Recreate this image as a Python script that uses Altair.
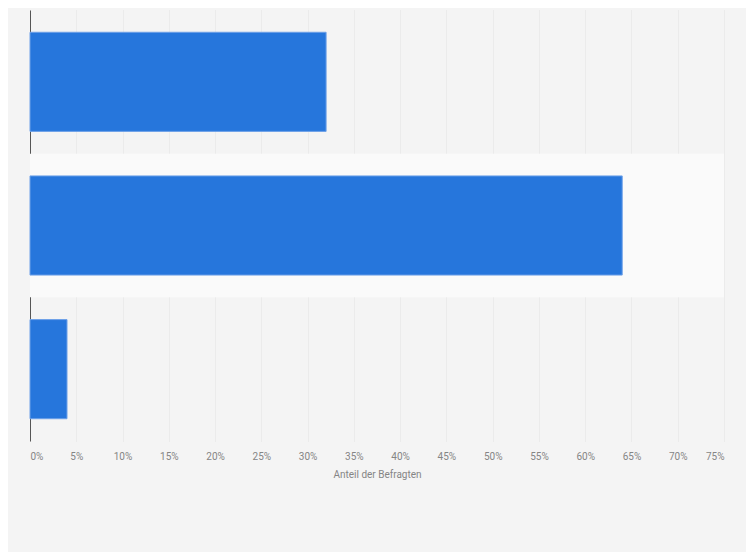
import altair as alt
import pandas as pd

categories = ["Ja", "Nein", "Weiß nicht"]
values = [32, 64, 4]
band_categories = ["Nein"]

df = pd.DataFrame({"Antwort": categories, "Anteil": values})
band_df = pd.DataFrame({"Antwort": band_categories})

W, H = 694, 431

band = alt.Chart(band_df).mark_rect(color="#fafafa").encode(
    y=alt.Y("Antwort:N", sort=categories,
            scale=alt.Scale(domain=categories, paddingInner=0, paddingOuter=0),
            axis=None),
    x=alt.value(0),
    x2=alt.value(W),
)

bars = alt.Chart(df).mark_bar(
    color="#2676dc", stroke="#6ea1e8", strokeWidth=1
).encode(
    x=alt.X("Anteil:Q",
            scale=alt.Scale(domain=[0, 75], nice=False),
            axis=alt.Axis(values=list(range(0, 80, 5)),
                          labelExpr="datum.value + '%'",
                          title="Anteil der Befragten",
                          grid=True, gridColor="#e2e2e2", gridDash=[1, 1],
                          gridWidth=1,
                          domain=False, ticks=False,
                          labelFlush=True,
                          labelColor="#858585", labelFontSize=10,
                          labelFont="Roboto", labelPadding=10,
                          titleColor="#858585", titleFontSize=10,
                          titleFont="Roboto", titleFontWeight="normal",
                          titlePadding=8)),
    y=alt.Y("Antwort:N", sort=categories,
            scale=alt.Scale(domain=categories, paddingInner=0.31, paddingOuter=0.155),
            axis=alt.Axis(labels=False, ticks=False, title=None,
                          domain=True, domainColor="#555555", domainWidth=1,
                          grid=False)),
)

chart = alt.layer(band, bars).resolve_scale(y="independent").properties(
    width=W, height=H,
    background="#f4f4f4",
    autosize=alt.AutoSizeParams(type="none"),
    padding={"left": 22, "top": 2, "right": 22, "bottom": 111},
).configure_view(stroke=None)

chart.save("out.html", embed_options={"renderer": "svg", "actions": False})
